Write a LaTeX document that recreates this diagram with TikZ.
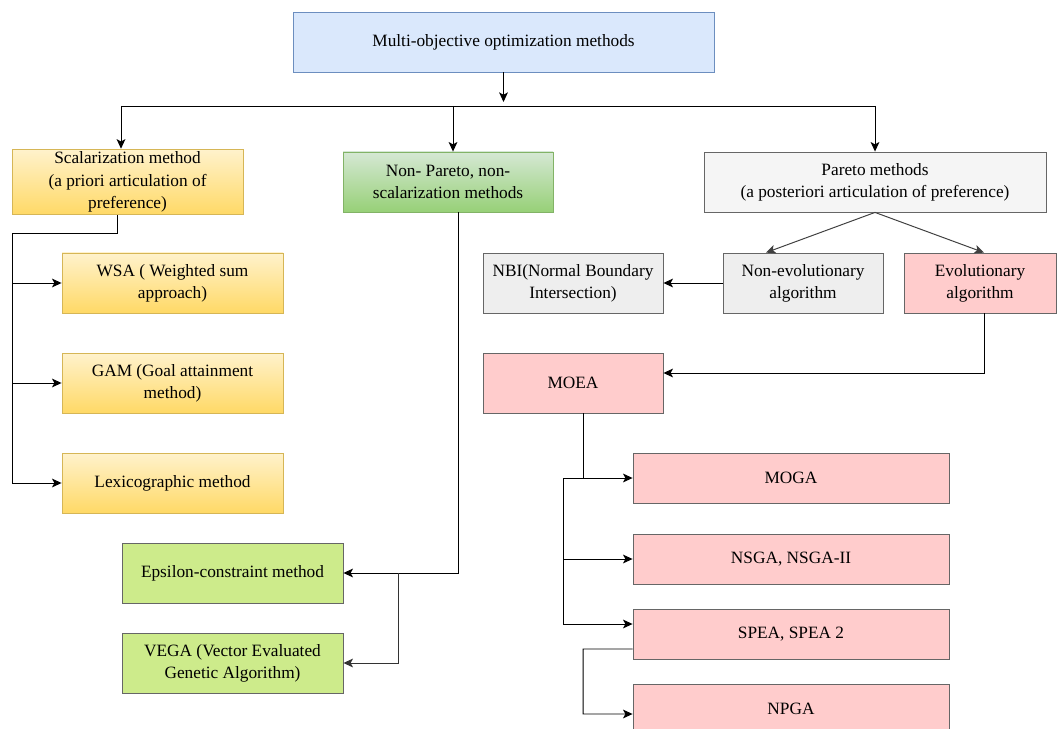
\documentclass[tikz,border=0pt]{standalone}
\usepackage{fontspec}
\setmainfont{Liberation Serif}
\usepackage{tikz}
\usetikzlibrary{arrows.meta,calc,positioning}
\definecolor{mainfill}{HTML}{DAE8FC}
\definecolor{mainline}{HTML}{6C8EBF}
\definecolor{scaltop}{HTML}{FFF2CC}
\definecolor{scalbot}{HTML}{FFD966}
\definecolor{scalline}{HTML}{D6B656}
\definecolor{npartop}{HTML}{D5E8D4}
\definecolor{nparbot}{HTML}{97D077}
\definecolor{nparline}{HTML}{82B366}
\definecolor{epsfill}{HTML}{CDEB8B}
\definecolor{greyline}{HTML}{666666}
\definecolor{parfill}{HTML}{F5F5F5}
\definecolor{nonevofill}{HTML}{EEEEEE}
\definecolor{evofill}{HTML}{FFCCCC}

\begin{document}
\begin{tikzpicture}[
  box/.style={draw, align=center, minimum height=1.5cm, inner sep=2pt,
    line width=0.6pt, font=\fontsize{12.3}{15.8}\selectfont},
  scalbox/.style={box, minimum width=5.525cm, top color=scaltop, bottom color=scalbot, draw=scalline},
  nparbox/.style={box, minimum width=5.525cm, fill=epsfill, draw=greyline},
  greybox/.style={box, fill=nonevofill, draw=greyline},
  evobox/.style={box, fill=evofill, draw=greyline},
  algbox/.style={evobox, minimum width=7.9cm, minimum height=1.25cm},
  arrow/.style={-{Stealth[length=2.4mm, width=2.2mm, inset=0.6mm]}, line width=0.7pt},
  line/.style={line width=0.7pt}
]
\useasboundingbox (0,0) rectangle (26.45,-18.225);

\node[box, minimum width=10.525cm, fill=mainfill, draw=mainline] (main) at (12.5875,-1.05) {Multi-objective optimization methods};

\node[scalbox, minimum width=5.775cm] (scal) at (3.1875,-4.55) {Scalarization method\\(a priori articulation of\\preference)};
\node[box, minimum width=5.25cm, top color=npartop, bottom color=nparbot, draw=nparline] (npar) at (11.2,-4.55) {Non- Pareto, non-\\scalarization methods};
\node[box, minimum width=8.55cm, fill=parfill, draw=greyline] (pareto) at (21.875,-4.55) {Pareto methods\\(a posteriori articulation of preference)};

% --- bus under the root -----------------------------------------------------
\coordinate (busM) at (12.5875,-2.55);
\coordinate (busL) at (3.025,-2.65);
\coordinate (busC) at (11.325,-2.65);
\coordinate (busR) at (21.875,-2.65);

\draw[arrow] (main) -- (busM);
\draw[line] (busL) -- (busR);
\draw[arrow] (busL) -- (busL |- scal.north);
\draw[arrow] (busC) -- (busC |- npar.north);
\draw[arrow] (busR) -- (pareto.north);

% --- scalarization ------------------------------------------------------------
\node[scalbox] (wsa) at (4.3125,-7.075) {WSA ( Weighted sum\\approach)};
\node[scalbox] (gam) at (4.3125,-9.575) {GAM (Goal attainment\\method)};
\node[scalbox] (lex) at (4.3125,-12.075) {Lexicographic method};

\coordinate (sTrunk) at (0.3,-5.825);
\draw[arrow] ([xshift=-2.5mm]scal.south) |- (sTrunk) |- (lex.west);
\draw[arrow] (sTrunk |- wsa) -- (wsa.west);
\draw[arrow] (sTrunk |- gam) -- (gam.west);

% --- non-Pareto ---------------------------------------------------------------
\node[nparbox] (eps)  at (5.8125,-14.325) {Epsilon-constraint method};
\node[nparbox] (vega) at (5.8125,-16.575) {VEGA (Vector Evaluated\\Genetic Algorithm)};

\coordinate (nBr) at (9.95,-14.325);
\draw[arrow] ([xshift=2.5mm]npar.south) |- (eps.east);
\draw[arrow, black!80] (nBr) |- (vega.east);

% --- Pareto -------------------------------------------------------------------
\node[greybox, minimum width=4.5cm] (nbi)    at (14.325,-7.075) {NBI(Normal Boundary\\Intersection)};
\node[greybox, minimum width=4.0cm] (nonevo) at (20.075,-7.075) {Non-evolutionary\\algorithm};
\node[evobox, minimum width=3.8cm]  (evo)    at (24.5,-7.075) {Evolutionary\\algorithm};
\node[evobox, minimum width=4.5cm]  (moea)   at (14.325,-9.575) {MOEA};

\draw[arrow, black!75] (pareto.south) -- ([xshift=-9.25mm]nonevo.north);
\draw[arrow, black!75] (pareto.south) -- ([xshift=1mm]evo.north);
\draw[arrow] (nonevo) -- (nbi);
\draw[arrow] ([xshift=1mm]evo.south) |- ([yshift=2.5mm]moea.east);

\node[algbox] (moga) at (19.775,-11.95) {MOGA};
\node[algbox] (nsga) at (19.775,-13.975) {NSGA, NSGA-II};
\node[algbox] (spea) at (19.775,-15.85) {SPEA, SPEA 2};
\node[algbox] (npga) at (19.775,-17.725) {NPGA};

\coordinate (mTop) at (14.075,-11.95);
\coordinate (sBend) at (14.575,-16.225);
\draw[line] ([xshift=2.5mm]moea.south) |- (mTop);
\draw[arrow] (mTop) -- (moga.west);
\draw[arrow] (mTop) |- ([yshift=2.5mm]spea.west);
\draw[arrow] (mTop |- nsga) -- (nsga.west);
\draw[arrow] ([yshift=-3.75mm]spea.west) -- (sBend) |- ([yshift=-1.25mm]npga.west);

\end{tikzpicture}
\end{document}
